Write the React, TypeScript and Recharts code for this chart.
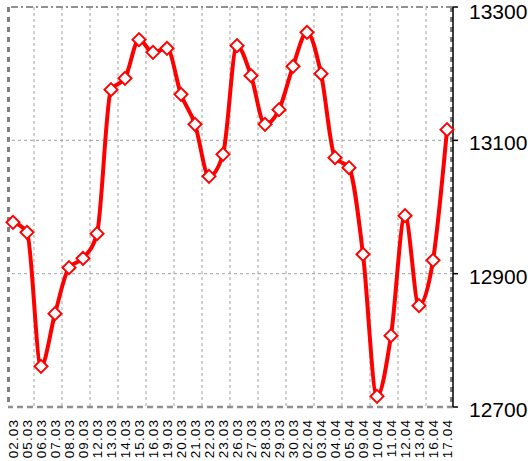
import React from "react";
import { LineChart, Line, XAxis, YAxis, CartesianGrid, ReferenceLine } from "recharts";

const dates = [
  "02.03", "05.03", "06.03", "07.03", "08.03", "09.03", "12.03", "13.03",
  "14.03", "15.03", "16.03", "19.03", "20.03", "21.03", "22.03", "23.03",
  "26.03", "27.03", "28.03", "29.03", "30.03", "02.04", "03.04", "04.04",
  "05.04", "09.04", "10.04", "11.04", "12.04", "13.04", "16.04", "17.04",
];
const values = [
  12977, 12962, 12761, 12840, 12909, 12923, 12960, 13176,
  13193, 13251, 13232, 13238, 13169, 13124, 13046, 13079,
  13242, 13197, 13124, 13146, 13211, 13262, 13200, 13074,
  13059, 12929, 12716, 12807, 12987, 12852, 12920, 13116,
];
const yTicks = [12700, 12900, 13100, 13300];
const yDomain = [12700, 13300];

const data = dates.map((d, i) => ({ d, v: values[i] }));

const FONT = "'Liberation Sans', Arial, sans-serif";

const Diamond = (props: any) => {
  const { cx, cy } = props;
  if (cx == null || cy == null) return null;
  const r = 6.5;
  return (
    <path
      d={`M${cx},${cy - r}L${cx + r},${cy}L${cx},${cy + r}L${cx - r},${cy}Z`}
      fill="#ffffff"
      stroke="#ff0000"
      strokeWidth={2}
    />
  );
};

const XTick = (props: any) => {
  const { x, y, payload } = props;
  return (
    <text
      x={x}
      y={y}
      transform={`rotate(-90, ${x}, ${y})`}
      textAnchor="end"
      dy="0.36em"
      fontFamily={FONT}
      fontSize={13.5}
      letterSpacing={1.1}
      fill="#000"
    >
      {payload.value}
    </text>
  );
};

const YTick = (props: any) => {
  const { x, y, payload } = props;
  return (
    <text x={x} y={y + 2.5} dy="0.36em" textAnchor="start" fontFamily={FONT} fontSize={21} fill="#000">
      {payload.value}
    </text>
  );
};

const interiorVerticals = ({ xAxis, offset }: any) => {
  const out: number[] = [];
  for (let i = 1; i < dates.length - 1; i += 2) {
    let a: number, b: number;
    if (xAxis && typeof xAxis.scale === "function") {
      a = xAxis.scale(dates[i]);
      b = xAxis.scale(dates[i + 1]);
    } else {
      const step = (offset.width - 11) / (dates.length - 1);
      a = offset.left + 5 + step * i;
      b = a + step;
    }
    out.push((a + b) / 2);
  }
  return out;
};

export default function App() {
  return (
    <div style={{ position: "absolute", left: 0, top: 0, width: 528, height: 461, background: "#fff" }}>
      <LineChart
        width={528}
        height={461}
        data={data}
        margin={{ top: 7, right: 0, bottom: 0, left: 8 }}
      >
        <CartesianGrid
          horizontal={false}
          vertical={true}
          verticalCoordinatesGenerator={interiorVerticals}
          stroke="#a0a0a0"
          strokeDasharray="3 3"
          strokeWidth={1}
        />
        <CartesianGrid
          horizontal={false}
          vertical={true}
          verticalCoordinatesGenerator={({ offset }: any) => [offset.left + 0.5, offset.left + offset.width - 1.5]}
          stroke="#808080"
          strokeDasharray="5 5"
          strokeWidth={3}
        />
        <ReferenceLine y={13100} stroke="#a0a0a0" strokeDasharray="3 3" strokeWidth={1} />
        <ReferenceLine y={12900} stroke="#a0a0a0" strokeDasharray="3 3" strokeWidth={1} />
        <ReferenceLine y={13300} stroke="#909090" strokeDasharray="7 3 2 3" strokeWidth={2} />
        <ReferenceLine y={12700} stroke="#909090" strokeDasharray="6 4" strokeWidth={2.5} />
        <XAxis
          dataKey="d"
          scale="point"
          padding={{ left: 5, right: 6 }}
          height={54}
          interval={0}
          axisLine={false}
          tickLine={false}
          tick={<XTick />}
          tickMargin={6}
        />
        <YAxis
          orientation="right"
          domain={yDomain}
          ticks={yTicks}
          width={75}
          axisLine={{ stroke: "#000", strokeWidth: 1.5 }}
          tickLine={{ stroke: "#000", strokeWidth: 1.5 }}
          tickSize={5}
          tickMargin={11}
          tick={<YTick />}
          allowDataOverflow
        />
        <Line
          type="monotone"
          dataKey="v"
          stroke="#ff0000"
          strokeWidth={4}
          dot={<Diamond />}
          activeDot={false}
          isAnimationActive={false}
        />
      </LineChart>
    </div>
  );
}
